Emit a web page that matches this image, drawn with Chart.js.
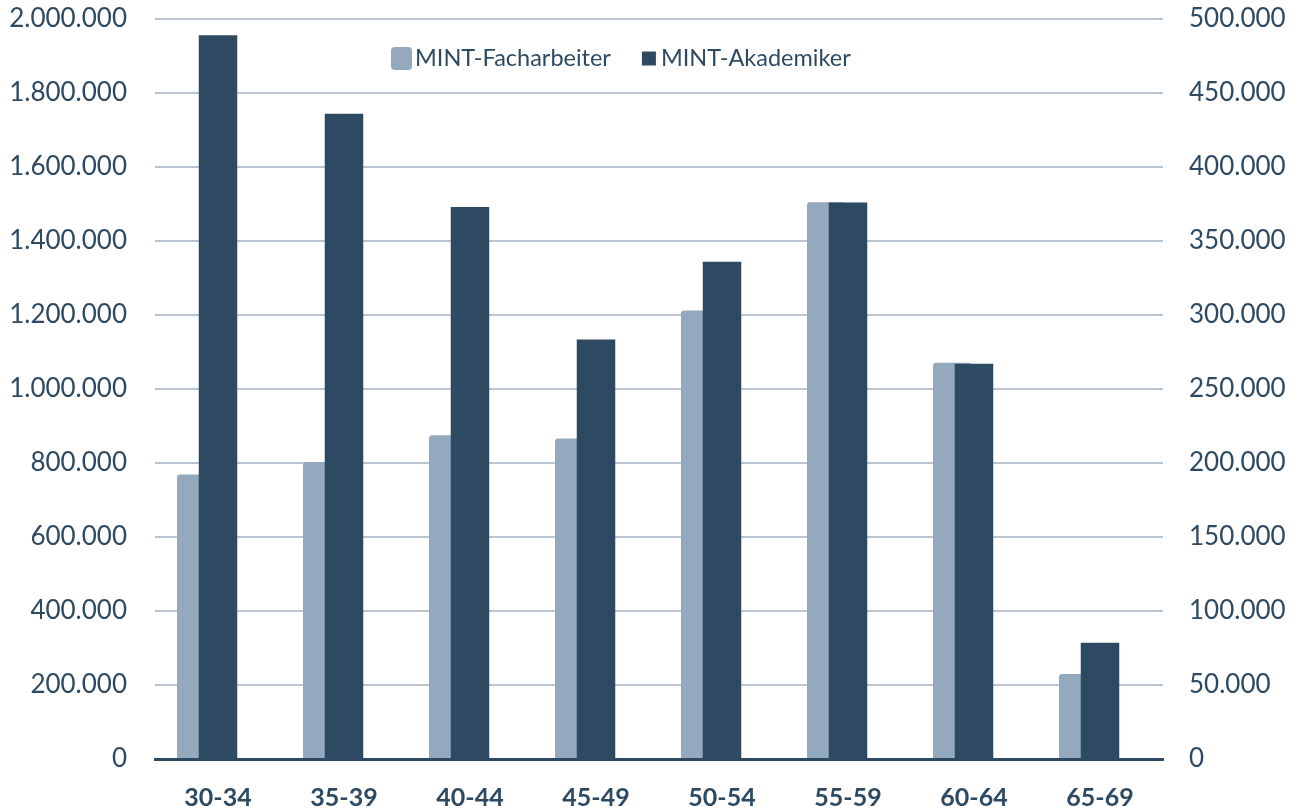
<!DOCTYPE html>
<html lang="de">
<head>
<meta charset="utf-8">
<title>MINT-Facharbeiter und MINT-Akademiker nach Altersgruppen</title>
<script src="https://cdn.jsdelivr.net/npm/chart.js@4.4.1/dist/chart.umd.min.js"></script>
<style>
  html, body { margin: 0; padding: 0; background: #ffffff; }
  #wrap { width: 1298px; height: 811px; }
</style>
</head>
<body>
<div id="wrap"><canvas id="chart" width="1298" height="811"></canvas></div>
<script>
// Age groups and employed persons per group
const ageGroups = ['30-34', '35-39', '40-44', '45-49', '50-54', '55-59', '60-64', '65-69'];
const facharbeiter = [769000, 803000, 875000, 866000, 1212000, 1505000, 1071000, 230000]; // left axis
const akademiker = [489000, 436000, 373000, 283500, 336000, 376000, 267000, 78500];        // right axis

// Tick values of both value axes
const leftTicks = [0, 200000, 400000, 600000, 800000, 1000000, 1200000, 1400000, 1600000, 1800000, 2000000];
const rightTicks = [0, 50000, 100000, 150000, 200000, 250000, 300000, 350000, 400000, 450000, 500000];

const INK = '#2E4A63';
const LIGHT = '#94A9BD';
const DARK = '#2E4A63';
const GRID = '#B8C6D4';
const FONT = 'Lato, "Open Sans", sans-serif';

// German thousands separator: 1.200.000
const fmt = v => String(v).replace(/\B(?=(\d{3})+(?!\d))/g, '.');

// Facharbeiter bars sit a little to the left, peeking out behind the Akademiker bars
const peek = 0.1726;

// Value axes keep no extra room for their end labels, so the plot spans the full height
const noEndPadding = s => { s.paddingTop = 0; s.paddingBottom = 0; };

// Legend drawn inside the plot area, below the top grid line
const plotLegend = {
  id: 'plotLegend',
  afterDatasetsDraw(chart, args, opts) {
    const { ctx, chartArea } = chart;
    ctx.save();
    ctx.font = opts.font;
    ctx.textBaseline = 'middle';
    ctx.textAlign = 'left';
    let x = chartArea.left + opts.offsetX;
    const y = chartArea.top + opts.offsetY;
    chart.data.datasets.forEach((ds, i) => {
      const m = opts.markers[i];
      ctx.fillStyle = ds.backgroundColor;
      ctx.beginPath();
      ctx.roundRect(x, y + m.dy - m.h / 2, m.w, m.h, m.r);
      ctx.fill();
      x += m.w + m.gap;
      ctx.fillStyle = opts.color;
      ctx.fillText(ds.label, x, y);
      x += ctx.measureText(ds.label).width + opts.spacing;
    });
    ctx.restore();
  }
};

new Chart(document.getElementById('chart'), {
  type: 'bar',
  data: {
    labels: ageGroups,
    datasets: [
      {
        label: 'MINT-Facharbeiter',
        data: ageGroups.map((g, i) => ({ x: i, y: facharbeiter[i] })),
        xAxisID: 'xf',
        yAxisID: 'y',
        backgroundColor: LIGHT,
        borderRadius: 3,
        grouped: false,
        categoryPercentage: 1,
        barPercentage: 0.3056,
        order: 1
      },
      {
        label: 'MINT-Akademiker',
        data: akademiker,
        xAxisID: 'x',
        yAxisID: 'y1',
        backgroundColor: DARK,
        grouped: false,
        categoryPercentage: 1,
        barPercentage: 0.3056,
        order: 0
      }
    ]
  },
  options: {
    responsive: false,
    animation: false,
    devicePixelRatio: 1,
    layout: { padding: { top: 19, left: 0, right: 0, bottom: 0 } },
    plugins: {
      legend: { display: false },
      tooltip: { enabled: false },
      plotLegend: {
        font: '23.5px ' + FONT,
        color: INK,
        offsetX: 236,
        offsetY: 39,
        spacing: 31,
        markers: [
          { w: 21, h: 23, r: 4, gap: 3, dy: 0.5 },
          { w: 14, h: 14, r: 0, gap: 5, dy: 0.5 }
        ]
      }
    },
    scales: {
      x: {
        type: 'category',
        offset: true,
        grid: { display: false, drawTicks: false },
        border: { display: true, color: INK, width: 3, z: 1 },
        ticks: {
          color: INK,
          font: { family: FONT, size: 25, weight: 'bold' },
          padding: 24
        },
        afterFit: s => { s.height = 52; }
      },
      xf: {
        type: 'linear',
        display: false,
        offset: false,
        bounds: 'data',
        min: -0.5 + peek,
        max: ageGroups.length - 0.5 + peek,
        afterBuildTicks: s => { s.ticks = ageGroups.map((g, i) => ({ value: i })); }
      },
      y: {
        position: 'left',
        min: leftTicks[0],
        max: leftTicks[leftTicks.length - 1],
        afterBuildTicks: s => { s.ticks = leftTicks.map(v => ({ value: v })); },
        grid: {
          color: c => (c.tick && c.tick.value === 0 ? 'rgba(0,0,0,0)' : GRID),
          lineWidth: 2,
          drawTicks: false
        },
        border: { display: false },
        ticks: {
          color: INK,
          font: { family: FONT, size: 26 },
          padding: 28,
          callback: v => fmt(v)
        },
        afterFit: s => { s.width = 155; noEndPadding(s); }
      },
      y1: {
        position: 'right',
        min: rightTicks[0],
        max: rightTicks[rightTicks.length - 1],
        afterBuildTicks: s => { s.ticks = rightTicks.map(v => ({ value: v })); },
        grid: { display: false, drawTicks: false },
        border: { display: false },
        ticks: {
          color: INK,
          font: { family: FONT, size: 26 },
          padding: 26,
          callback: v => fmt(v)
        },
        afterFit: s => { s.width = 135; noEndPadding(s); }
      }
    }
  },
  plugins: [plotLegend]
});
</script>
</body>
</html>
